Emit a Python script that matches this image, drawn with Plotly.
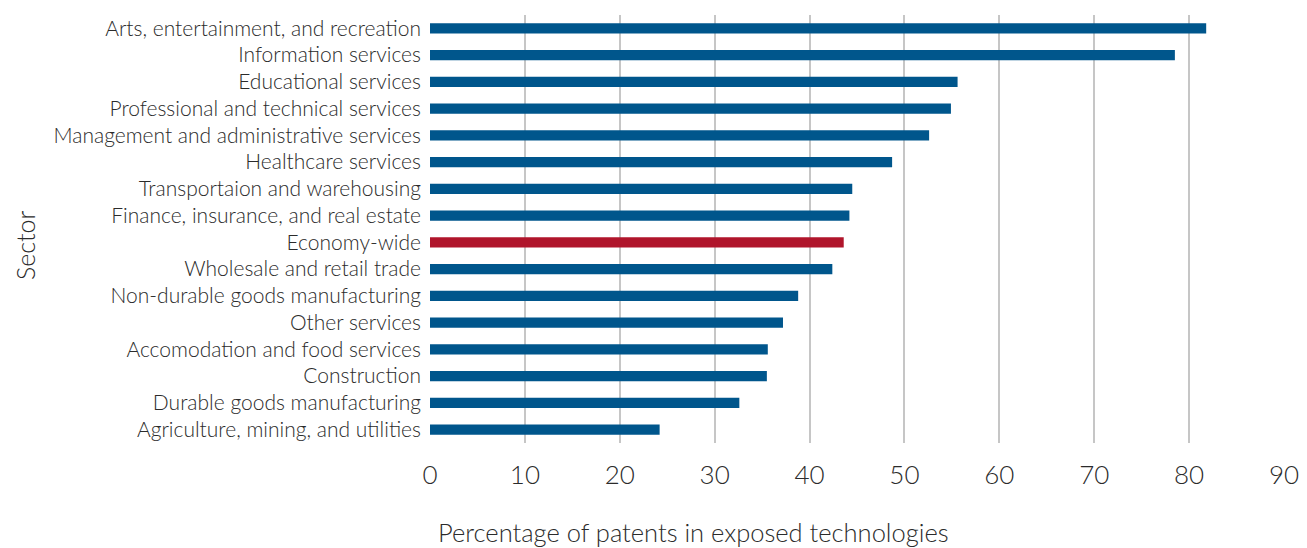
import plotly.graph_objects as go

sectors = [
    "Arts, entertainment, and recreation",
    "Information services",
    "Educational services",
    "Professional and technical services",
    "Management and administrative services",
    "Healthcare services",
    "Transportaion and warehousing",
    "Finance, insurance, and real estate",
    "Economy-wide",
    "Wholesale and retail trade",
    "Non-durable goods manufacturing",
    "Other services",
    "Accomodation and food services",
    "Construction",
    "Durable goods manufacturing",
    "Agriculture, mining, and utilities",
]
values = [81.8, 78.5, 55.6, 54.9, 52.6, 48.7, 44.5, 44.2, 43.6, 42.4, 38.8, 37.2, 35.6, 35.5, 32.6, 24.2]
tick_vals = [0, 10, 20, 30, 40, 50, 60, 70, 80, 90]

BLUE = "#00568C"
RED = "#B0152B"
colors = [RED if s == "Economy-wide" else BLUE for s in sectors]

FONT = "Lato"
TXT = "#2b2b2b"

fig = go.Figure(go.Bar(
    x=values, y=sectors, orientation="h",
    marker=dict(color=colors, line=dict(width=0)),
    width=0.38,
))

fig.update_layout(
    width=1299, height=540,
    margin=dict(l=422, r=23, t=7, b=105),
    plot_bgcolor="white", paper_bgcolor="white",
    font=dict(family=FONT, color=TXT, weight=300),
    showlegend=False,
    xaxis=dict(
        range=[0, 90], tickvals=tick_vals, showgrid=True, gridcolor="#c6c6c6", gridwidth=1.5,
        zeroline=False, showline=False, ticks="",
        tickfont=dict(size=26, family=FONT, color=TXT, weight=300),
        ticklabelstandoff=14,
    ),
    yaxis=dict(
        categoryorder="array", categoryarray=sectors[::-1],
        showgrid=False, zeroline=False, showline=False, ticks="",
        tickfont=dict(size=21, family=FONT, color=TXT, weight=300),
        ticklabelstandoff=8,
    ),
    annotations=[
        dict(text="Percentage of patents in exposed technologies", xref="paper", yref="paper",
             x=(693 - 430) / 854, y=-0.209, xanchor="center", yanchor="middle", showarrow=False,
             font=dict(size=25.5, family=FONT, color=TXT, weight=300)),
        dict(text="Sector", xref="paper", yref="paper", x=-0.474, y=0.463, textangle=-90,
             xanchor="center", yanchor="middle", showarrow=False,
             font=dict(size=25, family=FONT, color=TXT, weight=300)),
    ],
)

fig.write_html("out.html")
